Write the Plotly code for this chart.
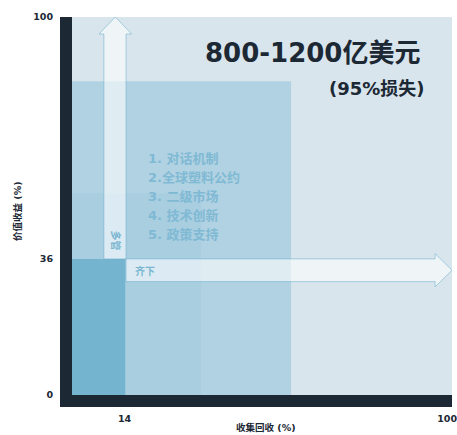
import plotly.graph_objects as go

# ---- data ----
x_ticks = [14, 100]
y_ticks = [0, 36, 100]
x_title = "收集回收 (%)"
y_title = "价值收益 (%)"

# zones: (x0, x1, y0, y1)
zone_x0 = [0, 0, 0]
zone_x1 = [58.4, 34.4, 14.2]
zone_y0 = [0, 0, 0]
zone_y1 = [83, 53.4, 36]
zone_colors = ["#b0d2e2", "#a8cee0", "#74b4cf"]

headline = "800-1200亿美元"
subline = "(95%损失)"
measures = ["1. 对话机制", "2.全球塑料公约", "3. 二级市场", "4. 技术创新", "5. 政策支持"]
measure_y = [62.5, 57.5, 52.6, 47.6, 42.5]
arrow_v_text = "多管"
arrow_h_text = "齐下"

# arrow geometry in data units
v_shaft_x = [8.5, 14.4]
v_head_x = [7.2, 15.9]
v_y = [36, 95.5, 100]
h_shaft_y = [30, 36]
h_head_y = [28.6, 37.4]
h_x = [14.4, 96.8, 101.3]

DARK = "#1c2834"
FONT = "DejaVu Sans, Noto Sans CJK SC, sans-serif"
X_MAX = 101.3

fig = go.Figure()
fig.add_trace(go.Scatter(x=[0, X_MAX], y=[0, 100], mode="markers",
                         marker=dict(opacity=0), hoverinfo="skip", showlegend=False))

shapes = []
for x0, x1, y0, y1, c in zip(zone_x0, zone_x1, zone_y0, zone_y1, zone_colors):
    shapes.append(dict(type="rect", xref="x", yref="y", x0=x0, x1=x1, y0=y0, y1=y1,
                       fillcolor=c, line=dict(width=0), layer="below"))

# vertical arrow
vx0, vx1 = v_shaft_x
hx0, hx1 = v_head_x
yb, yh, yt = v_y
vpath = (f"M {vx0} {yb} L {vx0} {yh} L {hx0} {yh} L {(hx0+hx1)/2} {yt} "
         f"L {hx1} {yh} L {vx1} {yh} L {vx1} {yb} Z")
shapes.append(dict(type="path", xref="x", yref="y", path=vpath,
                   fillcolor="rgba(255,255,255,0.6)",
                   line=dict(color="rgba(110,175,205,0.55)", width=1), layer="below"))
# horizontal arrow
sy0, sy1 = h_shaft_y
gy0, gy1 = h_head_y
xs, xh, xt = h_x
hpath = (f"M {xs} {sy0} L {xh} {sy0} L {xh} {gy0} L {xt} {(gy0+gy1)/2} "
         f"L {xh} {gy1} L {xh} {sy1} L {xs} {sy1} Z")
shapes.append(dict(type="path", xref="x", yref="y", path=hpath,
                   fillcolor="rgba(255,255,255,0.6)",
                   line=dict(color="rgba(110,175,205,0.55)", width=1), layer="below"))

# dark axis bars (paper coords)
W, H = 457, 435
L, R, T, B = 72, 5, 17, 40
pw, ph = W - L - R, H - T - B
shapes.append(dict(type="rect", xref="paper", yref="paper",
                   x0=-12 / pw, x1=0, y0=-12 / ph, y1=1,
                   fillcolor=DARK, line=dict(width=0), layer="above"))
shapes.append(dict(type="rect", xref="paper", yref="paper",
                   x0=-12 / pw, x1=1, y0=-12 / ph, y1=0,
                   fillcolor=DARK, line=dict(width=0), layer="above"))

annotations = [
    dict(x=93.3, y=90.5, xref="x", yref="y", text=headline, showarrow=False,
         xanchor="right", yanchor="middle",
         font=dict(family=FONT, size=26, color=DARK, weight="bold")),
    dict(x=94.6, y=81.2, xref="x", yref="y", text=subline, showarrow=False,
         xanchor="right", yanchor="middle",
         font=dict(family=FONT, size=18, color=DARK, weight="bold")),
    dict(x=11.6, y=41, xref="x", yref="y", text=arrow_v_text, showarrow=False,
         textangle=90, xanchor="center", yanchor="middle",
         font=dict(family=FONT, size=10, color="#7ab6d0", weight="bold")),
    dict(x=16.2, y=32.9, xref="x", yref="y", text=arrow_h_text, showarrow=False,
         xanchor="left", yanchor="middle",
         font=dict(family=FONT, size=10, color="#7ab6d0", weight="bold")),
    dict(x=(266 - L) / pw, y=(H - B - 428) / ph, xref="paper", yref="paper",
         text=x_title, showarrow=False, xanchor="center", yanchor="middle",
         font=dict(family=FONT, size=9.5, color=DARK, weight="bold")),
    dict(x=(17 - L) / pw, y=(H - B - 211) / ph, xref="paper", yref="paper",
         text=y_title, showarrow=False, textangle=-90, xanchor="center", yanchor="middle",
         font=dict(family=FONT, size=9.5, color=DARK, weight="bold")),
]
for txt, yy in zip(measures, measure_y):
    annotations.append(dict(x=19.6, y=yy, xref="x", yref="y", text=txt, showarrow=False,
                            xanchor="left", yanchor="middle",
                            font=dict(family=FONT, size=13, color="#80b9d4", weight="bold")))

fig.update_layout(
    width=W, height=H,
    margin=dict(l=L, r=R, t=T, b=B, autoexpand=False),
    paper_bgcolor="white", plot_bgcolor="#d8e5ec",
    shapes=shapes, annotations=annotations, showlegend=False,
    xaxis=dict(range=[0, X_MAX], tickvals=x_ticks, ticktext=[str(v) for v in x_ticks],
               showgrid=False, zeroline=False, showline=False, ticks="",
               automargin=False,
               ticklabelstandoff=16, ticklabeloverflow="allow",
               tickfont=dict(family=FONT, size=9.5, color=DARK, weight="bold"),
               fixedrange=True),
    yaxis=dict(range=[0, 100], tickvals=y_ticks, ticktext=[str(v) for v in y_ticks],
               showgrid=False, zeroline=False, showline=False, ticks="",
               automargin=False,
               ticklabelstandoff=18,
               tickfont=dict(family=FONT, size=9.5, color=DARK, weight="bold"),
               fixedrange=True),
)

fig.write_html("out.html", config={"displayModeBar": False})
